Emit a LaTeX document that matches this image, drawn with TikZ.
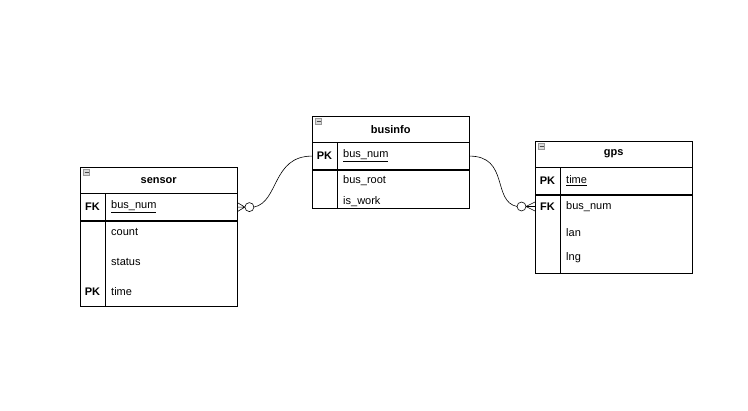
\documentclass[tikz,border=0pt]{standalone}
\usepackage{fontspec}
\setmainfont{Liberation Sans}
\usetikzlibrary{positioning}

\begin{document}
\begin{tikzpicture}[
    x=1pt, y=-1pt,
    font=\fontsize{11}{13}\selectfont,
    head/.style={rectangle, draw, minimum width=157pt, minimum height=26pt, inner sep=0pt, font=\fontsize{11}{13}\selectfont\bfseries},
    row/.style={rectangle, draw, minimum width=157pt, inner sep=0pt},
    key/.style={inner sep=0pt, font=\fontsize{11}{13}\selectfont\bfseries},
    field/.style={anchor=west, inner sep=0pt},
    icon/.style={rectangle, draw=gray!80, fill=gray!30, minimum size=6pt, inner sep=0pt,
        path picture={\draw[black!70, line width=0.8pt] ([xshift=1pt]path picture bounding box.west) -- ([xshift=-1pt]path picture bounding box.east);}},
    link/.style={draw, line width=0.6pt}
]
    \useasboundingbox (0,0) rectangle (748,411);

    % sensor table
    \node[head, anchor=north west] (sensor) at (80,167) {sensor};
    \node[row, minimum height=27pt, below=0pt of sensor] (sensor-fk) {};
    \node[row, minimum height=85pt, below=0pt of sensor-fk] (sensor-body) {};
    \node[icon] (sensor-icon) at ([xshift=6.5pt,yshift=-5pt]sensor.north west) {};
    \draw ([xshift=25pt]sensor-fk.north west) -- ([xshift=25pt]sensor-body.south west);
    \node[key] (sensor-fk-key) at (92.5,206.5) {FK};
    \node[field] (sensor-busnum) at (111,206.5) {\underline{bus\_num}};
    \node[field] (sensor-count) at (111,232) {count};
    \node[field] (sensor-status) at (111,262) {status};
    \node[key] (sensor-pk-key) at (92.5,292) {PK};
    \node[field] (sensor-time) at (111,292) {time};

    % businfo table
    \node[head, anchor=north west] (businfo) at (312,116) {businfo};
    \node[row, minimum height=27pt, below=0pt of businfo] (businfo-pk) {};
    \node[row, minimum height=38pt, below=0pt of businfo-pk] (businfo-body) {};
    \node[icon] (businfo-icon) at ([xshift=6.5pt,yshift=-5pt]businfo.north west) {};
    \draw ([xshift=25pt]businfo-pk.north west) -- ([xshift=25pt]businfo-body.south west);
    \node[key] (businfo-pk-key) at (324.5,155.5) {PK};
    \node[field] (businfo-busnum) at (343,155.5) {\underline{bus\_num}};
    \node[field] (businfo-root) at (343,181) {bus\_root};
    \node[field] (businfo-work) at (343,202) {is\_work};

    % gps table
    \node[head, anchor=north west] (gps) at (535,141) {gps};
    \node[row, minimum height=27pt, below=0pt of gps] (gps-pk) {};
    \node[row, minimum height=78pt, below=0pt of gps-pk] (gps-body) {};
    \node[icon] (gps-icon) at ([xshift=6.5pt,yshift=-5pt]gps.north west) {};
    \draw ([xshift=25pt]gps-pk.north west) -- ([xshift=25pt]gps-body.south west);
    \node[key] (gps-pk-key) at (547.5,180.5) {PK};
    \node[field] (gps-time) at (566,180.5) {\underline{time}};
    \node[key] (gps-fk-key) at (547.5,206.5) {FK};
    \node[field] (gps-busnum) at (566,206.5) {bus\_num};
    \node[field] (gps-lan) at (566,232.5) {lan};
    \node[field] (gps-lng) at (566,258) {lng};

    % relations (zero or many)
    \coordinate (gps-fk) at (gps-body.west |- gps-busnum);
    \coordinate (sensor-o) at ([xshift=12pt]sensor-fk.east);
    \coordinate (gps-o) at ([xshift=-13.5pt]gps-fk);

    \draw[link] (businfo-pk.west) .. controls +(-40,0) and +(25,-5) .. ([xshift=4.5pt]sensor-o);
    \draw[link] (sensor-o) circle (4.5pt);
    \draw[link] ([xshift=-4.5pt]sensor-o) -- ([yshift=4.5pt]sensor-fk.east)
                ([xshift=-4.5pt]sensor-o) -- (sensor-fk.east)
                ([xshift=-4.5pt]sensor-o) -- ([yshift=-4.5pt]sensor-fk.east);

    \draw[link] (businfo-pk.east) .. controls +(40,0) and +(-25,-5) .. ([xshift=-4.5pt]gps-o);
    \draw[link] (gps-o) circle (4.5pt);
    \draw[link] ([xshift=4.5pt]gps-o) -- ([yshift=4.5pt]gps-fk)
                ([xshift=4.5pt]gps-o) -- (gps-fk)
                ([xshift=4.5pt]gps-o) -- ([yshift=-4.5pt]gps-fk);

\end{tikzpicture}
\end{document}
